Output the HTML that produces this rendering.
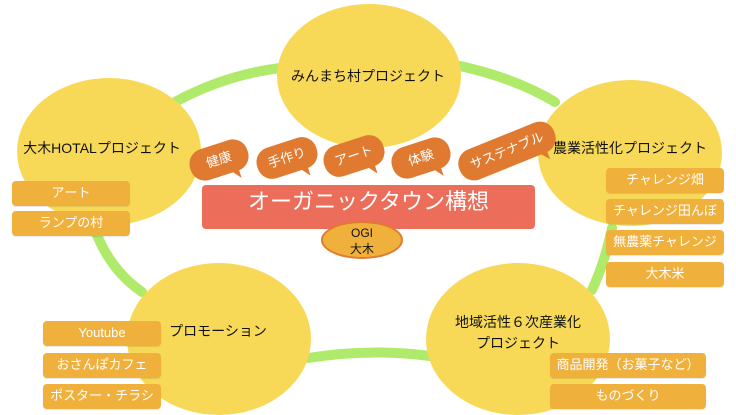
<!DOCTYPE html>
<html><head><meta charset="utf-8"><style>
body{margin:0;width:736px;height:414px;overflow:hidden;background:#fff;font-family:"Liberation Sans","Noto Sans CJK JP",sans-serif;}
.a{position:absolute;}
.c{position:absolute;background:#f7d957;border-radius:50%;}
.l{position:absolute;font-size:14px;color:#111;text-align:center;white-space:nowrap;transform:translate(-50%,-50%);}
.t{position:absolute;background:#f0b03c;color:#fff;font-size:13px;text-align:center;border-radius:4px;height:25px;line-height:24px;width:118px;box-shadow:0 1px 1px rgba(0,0,0,.1);}
.b{position:absolute;background:#e07a30;color:#fff;font-size:13px;border-radius:15px;height:32px;line-height:32px;text-align:center;}
.b:after{content:"";position:absolute;right:14px;bottom:-8px;border-left:8px solid transparent;border-top:10px solid #e07a30;}
</style></head><body>
<svg class="a" style="left:0;top:0" width="736" height="414">
<g stroke="#a6e85b" stroke-width="10" fill="none" stroke-linecap="round" opacity=".9">
<path d="M175 102 Q225 75 280 68"/>
<path d="M460 66 Q515 78 555 102"/>
<path d="M612 228 Q605 262 592 290"/>
<path d="M308 358 Q370 348 430 356"/>
<path d="M95 230 Q110 270 142 292"/>
</g></svg>
<div class="c" style="left:277px;top:4px;width:184px;height:144px"></div>
<div class="c" style="left:17px;top:78px;width:184px;height:147px"></div>
<div class="c" style="left:538px;top:80px;width:184px;height:146px"></div>
<div class="c" style="left:127px;top:263px;width:184px;height:152px"></div>
<div class="c" style="left:426px;top:263px;width:184px;height:152px"></div>
<div class="l" style="left:368px;top:76px">みんまち村プロジェクト</div>
<div class="l" style="left:102px;top:148px">大木HOTALプロジェクト</div>
<div class="l" style="left:630px;top:148px">農業活性化プロジェクト</div>
<div class="l" style="left:218px;top:331px">プロモーション</div>
<div class="l" style="left:518px;top:333px;line-height:21px">地域活性６次産業化<br>プロジェクト</div>
<div class="b" style="left:189px;top:144px;width:60px;transform:rotate(-18deg)">健康</div>
<div class="b" style="left:256px;top:142px;width:62px;transform:rotate(-18deg)">手作り</div>
<div class="b" style="left:323px;top:140px;width:62px;transform:rotate(-18deg)">アート</div>
<div class="b" style="left:391px;top:142px;width:60px;transform:rotate(-18deg)">体験</div>
<div class="b" style="left:456px;top:135px;width:102px;transform:rotate(-22deg)">サステナブル</div>
<div class="a" style="left:202px;top:185px;width:333px;height:44px;background:#ec6e5a;border-radius:4px;color:#fff;font-size:22px;text-align:center;line-height:34px">オーガニックタウン構想</div>
<div class="a" style="left:321px;top:221px;width:82px;height:38px;background:#f0b03c;border:2px solid #e07a30;border-radius:50%;box-sizing:border-box;font-size:12px;text-align:center;line-height:16px;padding-top:2px;color:#111">OGI<br>大木</div>
<div class="t" style="left:12px;top:181px">アート</div>
<div class="t" style="left:12px;top:211px">ランプの村</div>
<div class="t" style="left:606px;top:168px">チャレンジ畑</div>
<div class="t" style="left:606px;top:199px">チャレンジ田んぼ</div>
<div class="t" style="left:606px;top:230px">無農薬チャレンジ</div>
<div class="t" style="left:606px;top:262px">大木米</div>
<div class="t" style="left:43px;top:321px">Youtube</div>
<div class="t" style="left:43px;top:353px">おさんぽカフェ</div>
<div class="t" style="left:43px;top:384px">ポスター・チラシ</div>
<div class="t" style="left:550px;top:353px;width:156px">商品開発（お菓子など）</div>
<div class="t" style="left:550px;top:384px;width:156px">ものづくり</div>
</body></html>
